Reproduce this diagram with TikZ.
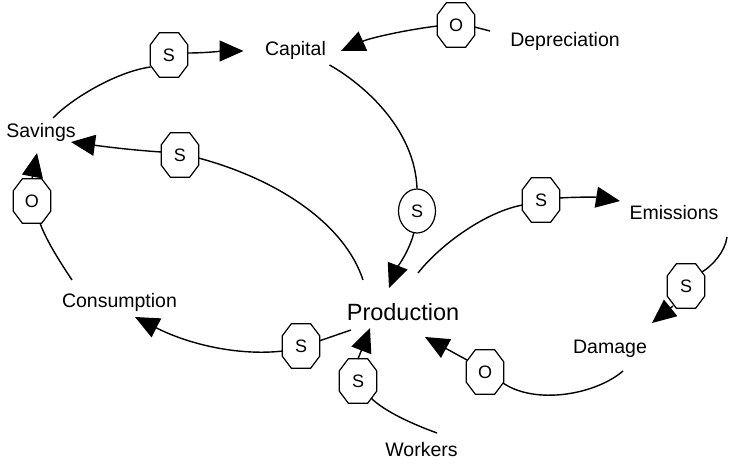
\documentclass[tikz,border=0pt]{standalone}
\usepackage{fontspec}
\setmainfont{Liberation Sans}
\usetikzlibrary{arrows.meta,shapes.geometric}
\tikzset{
  lbl/.style={anchor=base, inner sep=4pt, font=\fontsize{19.5}{22}\selectfont},
  biglbl/.style={anchor=base, inner sep=4pt, font=\fontsize{23.5}{26}\selectfont},
  octo/.style={minimum width=37pt, minimum height=44pt, inner sep=0pt,
    font=\fontsize{18}{18}\selectfont,
    append after command={\pgfextra{\draw[line width=1.2pt]
      ([xshift=9pt]\tikzlastnode.north west) -- ([xshift=-9pt]\tikzlastnode.north east)
      -- ([yshift=-12pt]\tikzlastnode.north east) -- ([yshift=12pt]\tikzlastnode.south east)
      -- ([xshift=-9pt]\tikzlastnode.south east) -- ([xshift=9pt]\tikzlastnode.south west)
      -- ([yshift=12pt]\tikzlastnode.south west) -- ([yshift=-12pt]\tikzlastnode.north west)
      -- cycle;}}},
  ell/.style={ellipse, draw, line width=1.2pt, minimum width=37pt, minimum height=44pt,
    inner sep=0pt, font=\fontsize{18}{18}\selectfont},
  lnk/.style={line width=1.4pt},
  arr/.style={line width=1.4pt, -{Triangle[length=24pt,width=21pt]}}
}
\begin{document}
\begin{tikzpicture}[x=1pt,y=-1pt]
\useasboundingbox (0,0) rectangle (730,463);
% variables
\node[lbl] (cap) at (295.5,55) {Capital};
\node[lbl] (dep) at (565,46) {Depreciation};
\node[lbl] (sav) at (41,137) {Savings};
\node[lbl] (cons) at (119.5,307) {Consumption};
\node[biglbl] (prod) at (403,320) {Production};
\node[lbl] (emi) at (674,219) {Emissions};
\node[lbl] (dam) at (610,353) {Damage};
\node[lbl] (wor) at (421.5,456) {Workers};
% polarity markers
\node[octo] (o1) at (169,55) {S};
\node[octo] (o2) at (456,25) {O};
\node[octo] (o3) at (180,155) {S};
\node[octo] (o4) at (32,201) {O};
\node[ell]  (e5) at (417,211) {S};
\node[octo] (o6) at (541,200) {S};
\node[octo] (o7) at (686,286) {S};
\node[octo] (o8) at (485,372) {O};
\node[octo] (o9) at (301,346) {S};
\node[octo] (o10) at (358,381) {S};
% Savings -> Capital
\draw[lnk] ([shift={(12,-19)}]sav.base) .. controls (70,100) and (115,72) .. ([shift={(-18.5,12)}]o1.center);
\draw[arr] ([shift={(18.5,-2)}]o1.center) .. controls (205,53) and (225,51) .. ([shift={(-52,-4)}]cap.base);
% Depreciation -> Capital
\draw[lnk] ([shift={(-75,-15)}]dep.base) -- ([shift={(18.5,2)}]o2.center);
\draw[arr] ([shift={(-18.5,1)}]o2.center) .. controls (405,30) and (370,38) .. ([shift={(45.5,-4)}]cap.base);
% Capital -> Production
\draw[lnk] ([shift={(34,10)}]cap.base) .. controls (365,85) and (415,130) .. (e5.north);
\draw[arr] ([shift={(-3,21)}]e5.center) .. controls (410,250) and (396,270) .. ([shift={(-14,-32)}]prod.base);
% Production -> Savings
\draw[lnk] ([shift={(-40,-40)}]prod.base) .. controls (345,225) and (280,180) .. ([shift={(18.5,3)}]o3.center);
\draw[arr] ([shift={(-18.5,-3)}]o3.center) .. controls (130,150) and (100,146) .. ([shift={(30,5)}]sav.base);
% Consumption -> Savings
\draw[lnk] ([shift={(-47.5,-27)}]cons.base) .. controls (60,262) and (46,240) .. ([shift={(8,22)}]o4.center);
\draw[arr] (o4.north) -- ([shift={(-4,16)}]sav.base);
% Production -> Emissions
\draw[lnk] ([shift={(15,-47)}]prod.base) .. controls (440,245) and (485,212) .. ([shift={(-18.5,5)}]o6.center);
\draw[arr] ([shift={(18.5,-2)}]o6.center) .. controls (575,197) and (595,197) .. ([shift={(-54,-18)}]emi.base);
% Emissions -> Damage
\draw[lnk] ([shift={(53,18)}]emi.base) .. controls (725,252) and (712,266) .. ([shift={(16,-14)}]o7.center);
\draw[arr] ([shift={(-13,20)}]o7.center) -- ([shift={(42,-30)}]dam.base);
% Damage -> Production
\draw[lnk] ([shift={(13,18)}]dam.base) .. controls (595,395) and (535,405) .. ([shift={(18,11)}]o8.center);
\draw[arr] ([shift={(-18,-12)}]o8.center) -- ([shift={(22,17)}]prod.base);
% Production -> Consumption
\draw[lnk] ([shift={(-52,10)}]prod.base) -- ([shift={(18,-5)}]o9.center);
\draw[arr] ([shift={(-18,5)}]o9.center) .. controls (240,356) and (190,345) .. ([shift={(15.5,10)}]cons.base);
% Workers -> Production
\draw[lnk] ([shift={(15.5,-23)}]wor.base) .. controls (415,425) and (385,412) .. ([shift={(13,17)}]o10.center);
\draw[arr] ([shift={(0,-22)}]o10.center) -- ([shift={(-33,8)}]prod.base);
\end{tikzpicture}
\end{document}
